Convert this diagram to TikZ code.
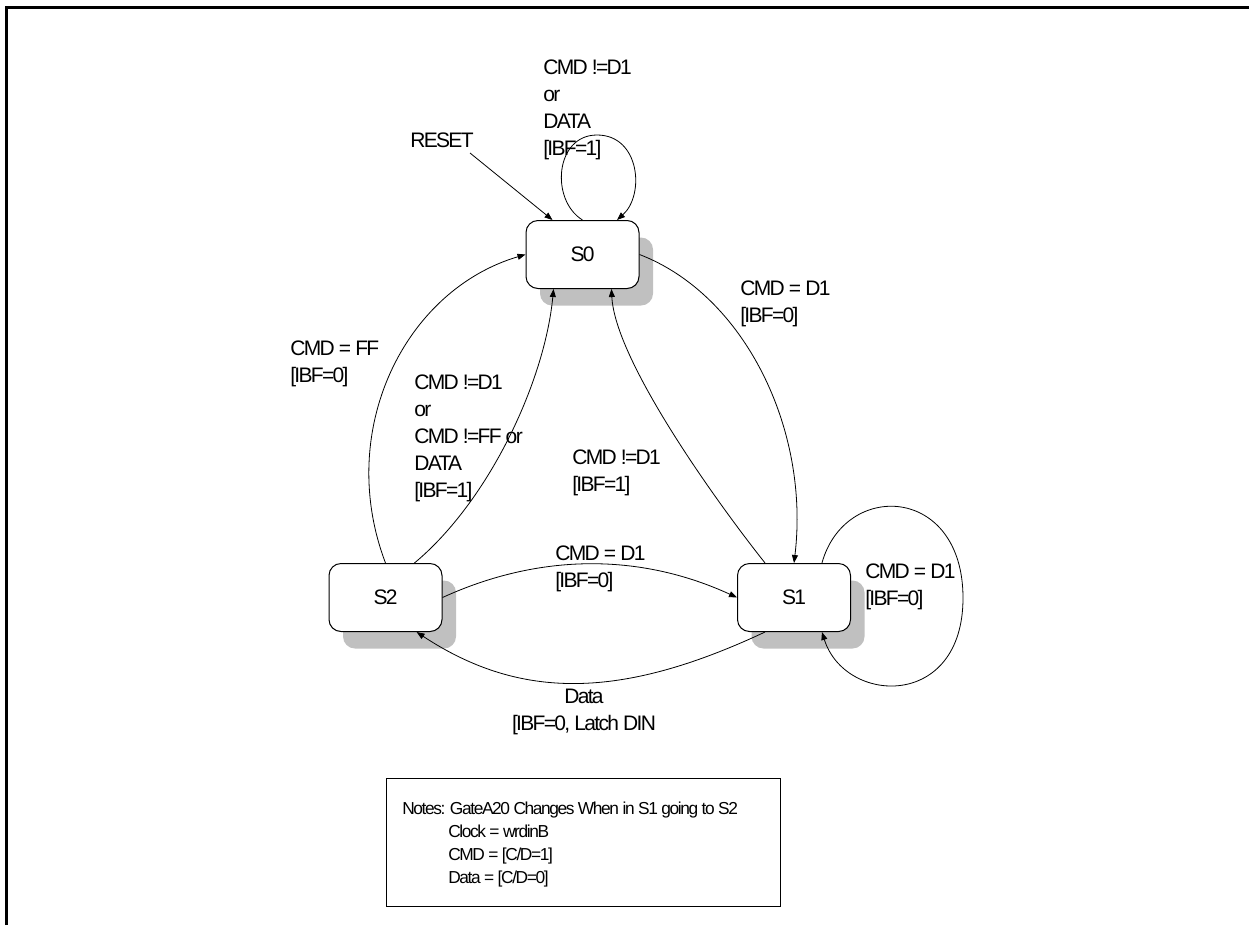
\documentclass[tikz,border=0pt]{standalone}
\usepackage{fontspec}
\setmainfont{Liberation Sans}[LetterSpace=-8]
\usetikzlibrary{arrows.meta,shadows}
\definecolor{shadowgray}{RGB}{192,192,192}
\tikzset{
    statebox/.style={draw, rounded corners=9pt, fill=white, minimum width=84.75pt, minimum height=51pt,
        inner sep=0pt, line width=0.75pt, font=\fontsize{15.75}{20.25}\selectfont,
        drop shadow={shadow xshift=10.5pt, shadow yshift=-12.75pt, fill=shadowgray, opacity=1}},
    trans/.style={-{Triangle[length=6pt,width=4.5pt]}, line width=0.6pt},
    lbl/.style={anchor=base west, align=left, inner sep=0pt, font=\fontsize{15.75}{20.25}\selectfont},
    notebox/.style={draw, line width=0.75pt, minimum width=295.5pt, minimum height=96pt, inner sep=0pt},
    notetext/.style={anchor=base west, align=left, inner sep=0pt, font=\fontsize{13}{17.25}\selectfont}
}
\begin{document}
\begin{tikzpicture}[x=0.75pt, y=-0.75pt]
    \useasboundingbox (0,0) rectangle (1249,925);

    % Frame
    \draw[line width=2.25pt] (6.5,925) -- (6.5,7.5) -- (1249,7.5);

    % Define states
    \node[statebox] (s0) at (582.5,254.5) {S0};
    \node[statebox] (s2) at (385.5,597.5) {S2};
    \node[statebox] (s1) at (794,597.5) {S1};
    \coordinate (rst) at (470,153);

    % Draw transitions
    \draw[trans] (rst) -- (s0.131);
    \draw[trans] (s0.north) .. controls (550,200) and (555,135) .. (597,135)
        .. controls (640,135) and (645,195) .. (s0.45);
    \draw[trans] (s0.east) .. controls (745,295) and (810,430) .. (s1.north);
    \draw[trans] (s1.130) .. controls (715,500) and (615,360) .. (s0.310);
    \draw[trans] (s1.51) .. controls (845,480) and (963,485) .. (963,598)
        .. controls (963,710) and (845,705) .. (s1.309);
    \draw[trans] (s2.east) .. controls (540,553) and (640,553) .. (s1.west);
    \draw[trans] (s1.230) .. controls (620,700) and (520,700) .. (s2.312);
    \draw[trans] (s2.north) .. controls (335,430) and (405,290) .. (s0.west);
    \draw[trans] (s2.50) .. controls (490,500) and (545,380) .. (s0.230);

    % Add labels (anchored at the baseline of the last line)
    \node[lbl] (reset) at (410,147.5) {RESET};
    \node[lbl] (loop0) at (543,155.5) {CMD !=D1\\or\\DATA\\{}[IBF=1]};
    \node[lbl] (go1) at (740,322.5) {CMD = D1\\{}[IBF=0]};
    \node[lbl] (back2) at (290,382) {CMD = FF\\{}[IBF=0]};
    \node[lbl] (stay2) at (414,497.5) {CMD !=D1\\or\\CMD !=FF or\\DATA\\{}[IBF=1]};
    \node[lbl] (back1) at (572,491) {CMD !=D1\\{}[IBF=1]};
    \node[lbl] (cross) at (555,587.5) {CMD = D1\\{}[IBF=0]};
    \node[lbl] (loop1) at (865,605) {CMD = D1\\{}[IBF=0]};
    \node[lbl, anchor=base, align=center] (latch) at (584,730) {Data\\{}[IBF=0, Latch DIN};

    % Notes
    \node[notebox] (notes) at (583,842) {};
    \node[notetext] (notetxt) at (402,883.5) {Notes: GateA20 Changes When in S1 going to S2\\
        \hspace*{34.5pt}Clock = wrdinB\\
        \hspace*{34.5pt}CMD = {[C/D=1]}\\
        \hspace*{34.5pt}Data = {[C/D=0]}};

\end{tikzpicture}
\end{document}
